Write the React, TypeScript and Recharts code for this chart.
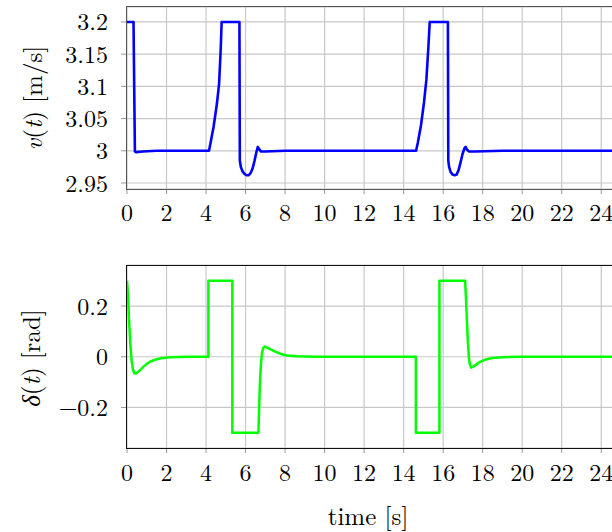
import React from "react";
import { LineChart, Line, XAxis, YAxis, CartesianGrid } from "recharts";

// ---- data ----
const timeTicks = [0, 2, 4, 6, 8, 10, 12, 14, 16, 18, 20, 22, 24];
const vTicks = [2.95, 3, 3.05, 3.1, 3.15, 3.2];
const dTicks = [-0.2, 0, 0.2];

const vTime = [
  0, 0.33, 0.4, 0.45, 0.8, 1.5, 4.15, 4.22, 4.38, 4.55, 4.66, 4.74, 4.79, 5.69, 5.71, 5.76, 5.85, 5.95,
  6.05, 6.15, 6.25, 6.35, 6.45, 6.55, 6.62, 6.68, 6.78, 7.0, 8, 14.63, 14.72, 14.88, 15.03, 15.15, 15.25,
  15.32, 16.24, 16.26, 16.3, 16.38, 16.48, 16.58, 16.68, 16.78, 16.88, 16.98, 17.08, 17.14, 17.2, 17.3,
  17.6, 19, 25,
];
const vValues = [
  3.2, 3.2, 2.999, 2.998, 2.999, 3.0, 3.0, 3.011, 3.037, 3.073, 3.104, 3.156, 3.2, 3.2, 2.985, 2.975,
  2.968, 2.964, 2.962, 2.962, 2.965, 2.972, 2.984, 2.998, 3.006, 3.003, 2.999, 2.999, 3.0, 3.0, 3.013,
  3.04, 3.075, 3.11, 3.16, 3.2, 3.2, 2.985, 2.975, 2.967, 2.963, 2.962, 2.963, 2.97, 2.982, 2.995, 3.004,
  3.006, 3.002, 2.999, 2.999, 3.0, 3.0,
];

const dTime = [
  0, 0.05, 0.1, 0.17, 0.24, 0.3, 0.37, 0.45, 0.55, 0.7, 0.85, 1.0, 1.2, 1.5, 1.8, 2.2, 3, 4.12, 4.12,
  5.33, 5.33, 6.65, 6.68, 6.72, 6.77, 6.83, 6.9, 6.97, 7.1, 7.3, 7.5, 7.8, 8.1, 8.6, 9.5, 10.5, 14.62,
  14.62, 15.81, 15.81, 17.11, 17.16, 17.2, 17.25, 17.3, 17.35, 17.42, 17.5, 17.65, 17.85, 18.1, 18.5, 19,
  20, 25,
];
const dValues = [
  0.3, 0.25, 0.15, 0.05, -0.02, -0.05, -0.065, -0.066, -0.06, -0.05, -0.038, -0.028, -0.018, -0.01,
  -0.005, -0.002, 0, 0, 0.3, 0.3, -0.3, -0.3, -0.22, -0.12, -0.04, 0.015, 0.035, 0.04, 0.036, 0.028, 0.02,
  0.011, 0.005, 0.002, 0.0005, 0, 0, -0.3, -0.3, 0.3, 0.3, 0.22, 0.15, 0.06, 0.0, -0.03, -0.043, -0.04,
  -0.032, -0.021, -0.012, -0.005, -0.002, 0, 0,
];

const vData = vTime.map((t, i) => ({ t, v: vValues[i] }));
const dData = dTime.map((t, i) => ({ t, d: dValues[i] }));

const FONT = '"Latin Modern Roman", "Liberation Serif", serif';
const GREEK = '"Liberation Serif", serif';
const tickStyle = { fill: "#000", fontSize: 24, fontFamily: FONT };
const gridColor = "#c8c8c8";

const fmtV = (v: number) => String(v);
const fmtD = (v: number) => (v < 0 ? "\u2212" + String(-v) : String(v));

const labelBox = (cx: number, cy: number, rotate: boolean): React.CSSProperties => ({
  position: "absolute",
  left: cx,
  top: cy,
  transform: rotate ? "translate(-50%, -50%) rotate(-90deg)" : "translate(-50%, -50%)",
  whiteSpace: "nowrap",
  fontSize: 25,
  lineHeight: "30px",
  height: 30,
});

export default function App() {
  return (
    <div
      style={{
        position: "fixed",
        left: 0,
        top: 0,
        width: 612,
        height: 532,
        overflow: "hidden",
        background: "#fff",
        fontFamily: FONT,
      }}
    >
      {/* top chart */}
      <div style={{ position: "absolute", left: 0, top: 0 }}>
        <LineChart width={700} height={240} data={vData} margin={{ top: 7, right: 79, bottom: 0, left: 0 }}>
          <CartesianGrid stroke={gridColor} strokeWidth={1.2} />
          <XAxis
            dataKey="t"
            type="number"
            domain={[0, 25]}
            ticks={timeTicks}
            interval={0}
            height={51}
            axisLine={false}
            tickLine={{ stroke: "#999" }}
            tickSize={5}
            tickMargin={10}
            tick={tickStyle}
            allowDataOverflow
          />
          <YAxis
            type="number"
            domain={[2.9407, 3.2232]}
            ticks={vTicks}
            interval={0}
            width={127}
            axisLine={false}
            tickLine={{ stroke: "#999" }}
            tickSize={6}
            tickMargin={13}
            tick={tickStyle}
            tickFormatter={fmtV}
            allowDataOverflow
          />
          <Line
            dataKey="v"
            type="linear"
            stroke="#0000ff"
            strokeWidth={2.6}
            dot={false}
            isAnimationActive={false}
            strokeLinejoin="round"
          />
        </LineChart>
      </div>
      <div
        style={{
          position: "absolute",
          left: 126,
          top: 6,
          width: 496,
          height: 184,
          boxSizing: "border-box",
          border: "1.5px solid #555",
          pointerEvents: "none",
        }}
      />
      <div style={labelBox(32, 98, true)}>
        <i>v</i>(<i>t</i>)<span style={{ marginLeft: 8 }}>[m/s]</span>
      </div>

      {/* bottom chart */}
      <div style={{ position: "absolute", left: 0, top: 250 }}>
        <LineChart width={700} height={240} data={dData} margin={{ top: 15, right: 79, bottom: 0, left: 0 }}>
          <CartesianGrid stroke={gridColor} strokeWidth={1.2} />
          <XAxis
            dataKey="t"
            type="number"
            domain={[0, 25]}
            ticks={timeTicks}
            interval={0}
            height={42}
            axisLine={false}
            tickLine={{ stroke: "#999" }}
            tickSize={5}
            tickMargin={11}
            tick={tickStyle}
            allowDataOverflow
          />
          <YAxis
            type="number"
            domain={[-0.36, 0.362]}
            ticks={dTicks}
            interval={0}
            width={127}
            axisLine={false}
            tickLine={{ stroke: "#999" }}
            tickSize={6}
            tickMargin={13}
            tick={tickStyle}
            tickFormatter={fmtD}
            allowDataOverflow
          />
          <Line
            dataKey="d"
            type="linear"
            stroke="#00ff00"
            strokeWidth={2.5}
            dot={false}
            isAnimationActive={false}
            strokeLinejoin="round"
          />
        </LineChart>
      </div>
      <div
        style={{
          position: "absolute",
          left: 126,
          top: 265,
          width: 496,
          height: 184,
          boxSizing: "border-box",
          border: "1.2px solid #111",
          pointerEvents: "none",
        }}
      />
      <div style={labelBox(30, 358, true)}>
        <i style={{ fontFamily: GREEK }}>δ</i>(<i>t</i>)<span style={{ marginLeft: 8 }}>[rad]</span>
      </div>
      <div style={labelBox(368, 515, false)}>time [s]</div>
    </div>
  );
}
